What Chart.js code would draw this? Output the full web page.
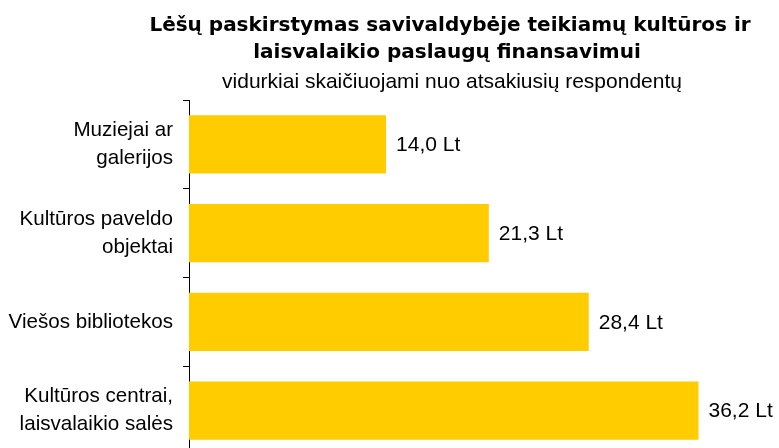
<!DOCTYPE html>
<html>
<head>
<meta charset="utf-8">
<script src="https://cdn.jsdelivr.net/npm/chart.js@4/dist/chart.umd.min.js"></script>
<style>
  html, body { margin:0; padding:0; background:#fff; overflow:hidden; }
  canvas { display:block; }
</style>
</head>
<body>
<canvas id="chart" width="779" height="455"></canvas>
<script>
// ── Lėšų paskirstymas: horizontal bars ──

const TITLE_LINES = ['Lėšų paskirstymas savivaldybėje teikiamų kultūros ir', 'laisvalaikio paslaugų finansavimui'];
const SUBTITLE = 'vidurkiai skaičiuojami nuo atsakiusių respondentų';

const CATEGORIES = [
  ['Muziejai ar', 'galerijos'],
  ['Kultūros paveldo', 'objektai'],
  'Viešos bibliotekos',
  ['Kultūros centrai,', 'laisvalaikio salės']
];
const VALUES = [14.0, 21.3, 28.4, 36.2];
const UNIT = 'Lt';

const FONT = '"Liberation Sans", Arial, sans-serif';
const TITLE_FONT = '"DejaVu Sans", Verdana, sans-serif';

// titles drawn centred over the plot
const titlePlugin = {
  id: 'titles',
  afterDraw(chart) {
    const ctx = chart.ctx;
    ctx.save();
    ctx.fillStyle = '#000';
    ctx.textAlign = 'center';
    ctx.textBaseline = 'alphabetic';
    ctx.font = 'bold 20px ' + TITLE_FONT;
    ctx.fillText(TITLE_LINES[0], 450, 31);
    ctx.fillText(TITLE_LINES[1], 447, 58);
    ctx.font = '21px ' + FONT;
    ctx.fillText(SUBTITLE, 452, 88);
    ctx.restore();
  }
};

// value labels at the bar ends
const valueLabels = {
  id: 'valueLabels',
  afterDatasetsDraw(chart) {
    const ctx = chart.ctx;
    const meta = chart.getDatasetMeta(0);
    ctx.save();
    ctx.fillStyle = '#000';
    ctx.font = '21px ' + FONT;
    ctx.textAlign = 'left';
    ctx.textBaseline = 'middle';
    meta.data.forEach((bar, i) => {
      const txt = VALUES[i].toFixed(1).replace('.', ',') + ' ' + UNIT;
      ctx.fillText(txt, bar.x + 10, bar.y + 1);
    });
    ctx.restore();
  }
};

new Chart(document.getElementById('chart'), {
  type: 'bar',
  data: {
    labels: CATEGORIES,
    datasets: [{
      data: VALUES,
      backgroundColor: '#FFCC00',
      borderWidth: 0,
      categoryPercentage: 1,
      barPercentage: 0.655
    }]
  },
  options: {
    indexAxis: 'y',
    responsive: false,
    animation: false,
    layout: { padding: { top: 100, right: 27, bottom: 0, left: 0 } },
    plugins: { legend: { display: false }, tooltip: { enabled: false }, title: { display: false } },
    scales: {
      x: { display: false, min: 0, max: 40 },
      y: {
        afterFit(scale) { scale.width = 189; scale.paddingTop = 0; scale.paddingBottom = 0; },
        border: { display: true, color: '#000', width: 1 },
        grid: { display: true, drawOnChartArea: false, drawTicks: true, tickLength: 6, offset: true, color: '#000' },
        ticks: { color: '#000', padding: 10, font: { family: FONT, size: 20.6, lineHeight: 1.36 } }
      }
    }
  },
  plugins: [titlePlugin, valueLabels]
});
</script>
</body>
</html>
